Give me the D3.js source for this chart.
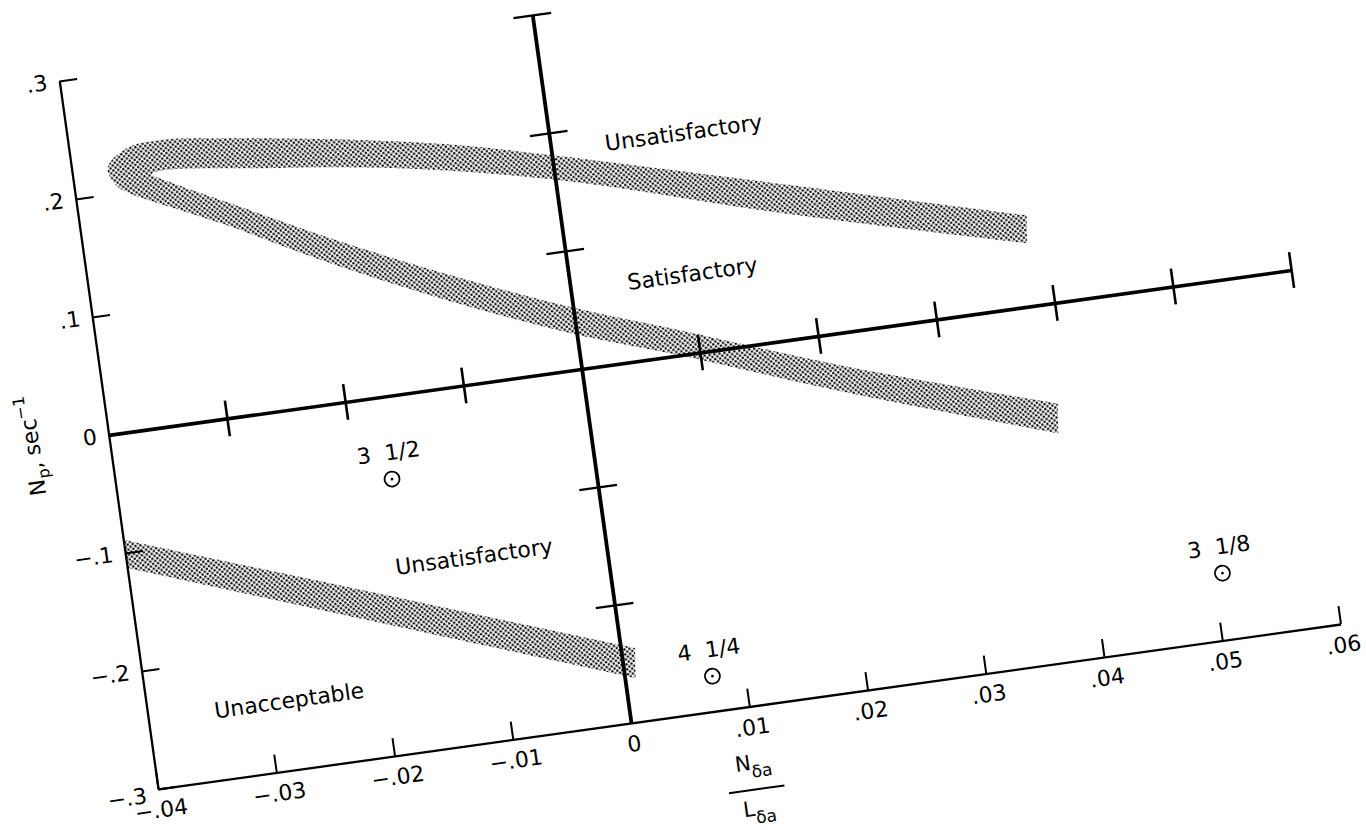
<!DOCTYPE html>
<html>
<head>
<meta charset="utf-8">
<script src="https://cdn.jsdelivr.net/npm/d3@7"></script>
<style>
    body { margin: 0; background: #fff; }
    text { font-family: "DejaVu Sans", sans-serif; fill: #000; }
</style>
</head>
<body>
<svg id="chart" width="1366" height="830"></svg>
<script>
// axis ticks
var xTickValues = [-0.04, -0.03, -0.02, -0.01, 0, 0.01, 0.02, 0.03, 0.04, 0.05, 0.06];
var xTickLabels = ["\u2212.04", "\u2212.03", "\u2212.02", "\u2212.01", "0", ".01", ".02", ".03", ".04", ".05", ".06"];
var yTickValues = [-0.3, -0.2, -0.1, 0, 0.1, 0.2, 0.3];
var yTickLabels = ["\u2212.3", "\u2212.2", "\u2212.1", "0", ".1", ".2", ".3"];
var innerXTicks = [-0.03, -0.02, -0.01, 0.01, 0.02, 0.03, 0.04, 0.05, 0.06];
var innerYTicks = [-0.2, -0.1, 0.1, 0.2, 0.3];

// shaded boundary bands, [N_da/L_da, Np]
var upperBandOuter = [[0.0387, 0.0761], [0.0189, 0.1302], [-0.0001, 0.1814], [-0.0075, 0.2002],
    [-0.0157, 0.2160], [-0.0268, 0.2329], [-0.0323, 0.2392], [-0.0352, 0.2362], [-0.0370, 0.2220],
    [-0.0365, 0.2069], [-0.0357, 0.1999], [-0.0278, 0.1608], [-0.0199, 0.1184], [-0.0120, 0.0802],
    [-0.0005, 0.0311], [0.0083, 0.0001], [0.0220, -0.0513], [0.0388, -0.1087]];
var upperBandInner = [[0.0384, 0.0528], [0.0185, 0.1061], [0.0004, 0.1595], [-0.0133, 0.1889],
    [-0.0244, 0.2043], [-0.0323, 0.2137], [-0.0334, 0.2119], [-0.0320, 0.2031], [-0.0275, 0.1799],
    [-0.0196, 0.1392], [-0.0117, 0.1018], [-0.0002, 0.0528], [0.0086, 0.0209], [0.0223, -0.0297],
    [0.0391, -0.0838]];
var lowerBandTop = [[-0.0399, -0.0892], [-0.0204, -0.1597], [0.0012, -0.2382]];
var lowerBandBottom = [[-0.0400, -0.1127], [-0.0207, -0.1838], [0.0009, -0.2632]];

// pilot ratings
var pointX = [-0.0170, 0.0073, 0.0508];
var pointY = [-0.0695, -0.2705, -0.2440];
var pointLabels = ["3  1/2", "4  1/4", "3  1/8"];

// region names
var regionNames = ["Unsatisfactory", "Satisfactory", "Unsatisfactory", "Unacceptable"];
var regionX = [0.0112, 0.0103, -0.0111, -0.0281];
var regionY = [0.185, 0.0668, -0.1431, -0.2413];

var svg = d3.select("#chart");

// the plate is tilted a little, so the whole plot lives in a rotated group
var plot = svg.append("g").attr("transform", "translate(158,789) rotate(-7.94)");

var x = d3.scaleLinear().domain([-0.04, 0.06]).range([0, 1193.9]);
var y = d3.scaleLinear().domain([-0.3, 0.3]).range([0, -714.9]);

var defs = svg.append("defs");
var pat = defs.append("pattern")
    .attr("id", "stipple")
    .attr("patternUnits", "userSpaceOnUse")
    .attr("width", 5)
    .attr("height", 5);
pat.append("circle").attr("cx", 1.25).attr("cy", 1.25).attr("r", 1.2).attr("fill", "#000");
pat.append("circle").attr("cx", 3.75).attr("cy", 3.75).attr("r", 1.2).attr("fill", "#000");

var edge = d3.line()
    .x(function (d) { return x(d[0]); })
    .y(function (d) { return y(d[1]); })
    .curve(d3.curveCatmullRom);

var bandPath = function (a, b) {
    var back = edge(b.slice().reverse());
    return edge(a) + "L" + back.substring(1) + "Z";
};

plot.append("path").attr("d", bandPath(upperBandOuter, upperBandInner)).attr("fill", "url(#stipple)");
plot.append("path").attr("d", bandPath(lowerBandTop, lowerBandBottom)).attr("fill", "url(#stipple)");

// outer frame axes
var bottomAxis = plot.append("g")
    .call(d3.axisBottom(x).tickValues(xTickValues)
        .tickFormat(function (d, i) { return xTickLabels[i]; })
        .tickSizeInner(-18).tickSizeOuter(0).tickPadding(13));
var leftAxis = plot.append("g")
    .call(d3.axisLeft(y).tickValues(yTickValues)
        .tickFormat(function (d, i) { return yTickLabels[i]; })
        .tickSizeInner(-18).tickSizeOuter(0).tickPadding(12));

[bottomAxis, leftAxis].forEach(function (ax) {
    ax.select(".domain").attr("stroke", "#000").attr("stroke-width", 2.3);
    ax.selectAll(".tick line").attr("stroke", "#000").attr("stroke-width", 2);
    ax.selectAll(".tick text").attr("font-size", 22).attr("font-family", "DejaVu Sans");
});
leftAxis.selectAll(".tick text").filter(function (d) { return d === -0.3; }).attr("dy", "0.55em");

// inner axes through the origin, with crossing ticks
var hAxis = plot.append("g")
    .attr("transform", "translate(0," + y(0) + ")")
    .call(d3.axisBottom(x).tickValues(innerXTicks).tickFormat("").tickSizeInner(18).tickSizeOuter(0));
hAxis.selectAll(".tick line").attr("y1", -18).attr("stroke", "#000").attr("stroke-width", 2.6);
hAxis.select(".domain").attr("stroke", "#000").attr("stroke-width", 3.6);

var vAxis = plot.append("g")
    .attr("transform", "translate(" + x(0) + ",0)")
    .call(d3.axisLeft(y).tickValues(innerYTicks).tickFormat("").tickSizeInner(19).tickSizeOuter(0));
vAxis.selectAll(".tick line").attr("x1", 19).attr("x2", -19).attr("stroke", "#000").attr("stroke-width", 2.2);
vAxis.select(".domain").attr("stroke", "#000").attr("stroke-width", 3.8);

// region names
plot.selectAll("text.region")
    .data(regionNames)
    .enter().append("text")
    .attr("class", "region")
    .attr("x", function (d, i) { return x(regionX[i]); })
    .attr("y", function (d, i) { return y(regionY[i]); })
    .attr("dy", "0.36em")
    .attr("text-anchor", "middle")
    .attr("font-size", 22)
    .text(function (d) { return d; });

// rating points
var pts = plot.selectAll("g.pt")
    .data(pointLabels)
    .enter().append("g")
    .attr("class", "pt")
    .attr("transform", function (d, i) { return "translate(" + x(pointX[i]) + "," + y(pointY[i]) + ")"; });
pts.append("circle").attr("r", 7.5).attr("fill", "none").attr("stroke", "#000").attr("stroke-width", 1.8);
pts.append("circle").attr("r", 1.4).attr("fill", "#000");
pts.append("text")
    .attr("y", -19)
    .attr("text-anchor", "middle")
    .attr("font-size", 22)
    .style("white-space", "pre")
    .text(function (d) { return d; });

// y title
var yTitle = plot.append("text")
    .attr("transform", "translate(-70," + y(0) + ") rotate(-90)")
    .attr("text-anchor", "middle")
    .attr("font-size", 22);
yTitle.append("tspan").text("N");
yTitle.append("tspan").attr("font-size", 16).attr("dy", 6).text("p");
yTitle.append("tspan").attr("dy", -6).text(", sec");
yTitle.append("tspan").attr("font-size", 16).attr("dy", -9).text("\u22121");

// x title as a fraction
var frac = plot.append("g").attr("transform", "translate(" + (x(0.01) - 4) + ",83)");
frac.append("line").attr("x1", -28).attr("x2", 28).attr("stroke", "#000").attr("stroke-width", 2);
var num = frac.append("text").attr("y", -20).attr("text-anchor", "middle").attr("font-size", 21);
num.append("tspan").text("N");
num.append("tspan").attr("font-size", 17).attr("dy", 8).text("\u03b4a");
var den = frac.append("text").attr("y", 26).attr("text-anchor", "middle").attr("font-size", 21);
den.append("tspan").text("L");
den.append("tspan").attr("font-size", 17).attr("dy", 8).text("\u03b4a");
</script>
</body>
</html>
